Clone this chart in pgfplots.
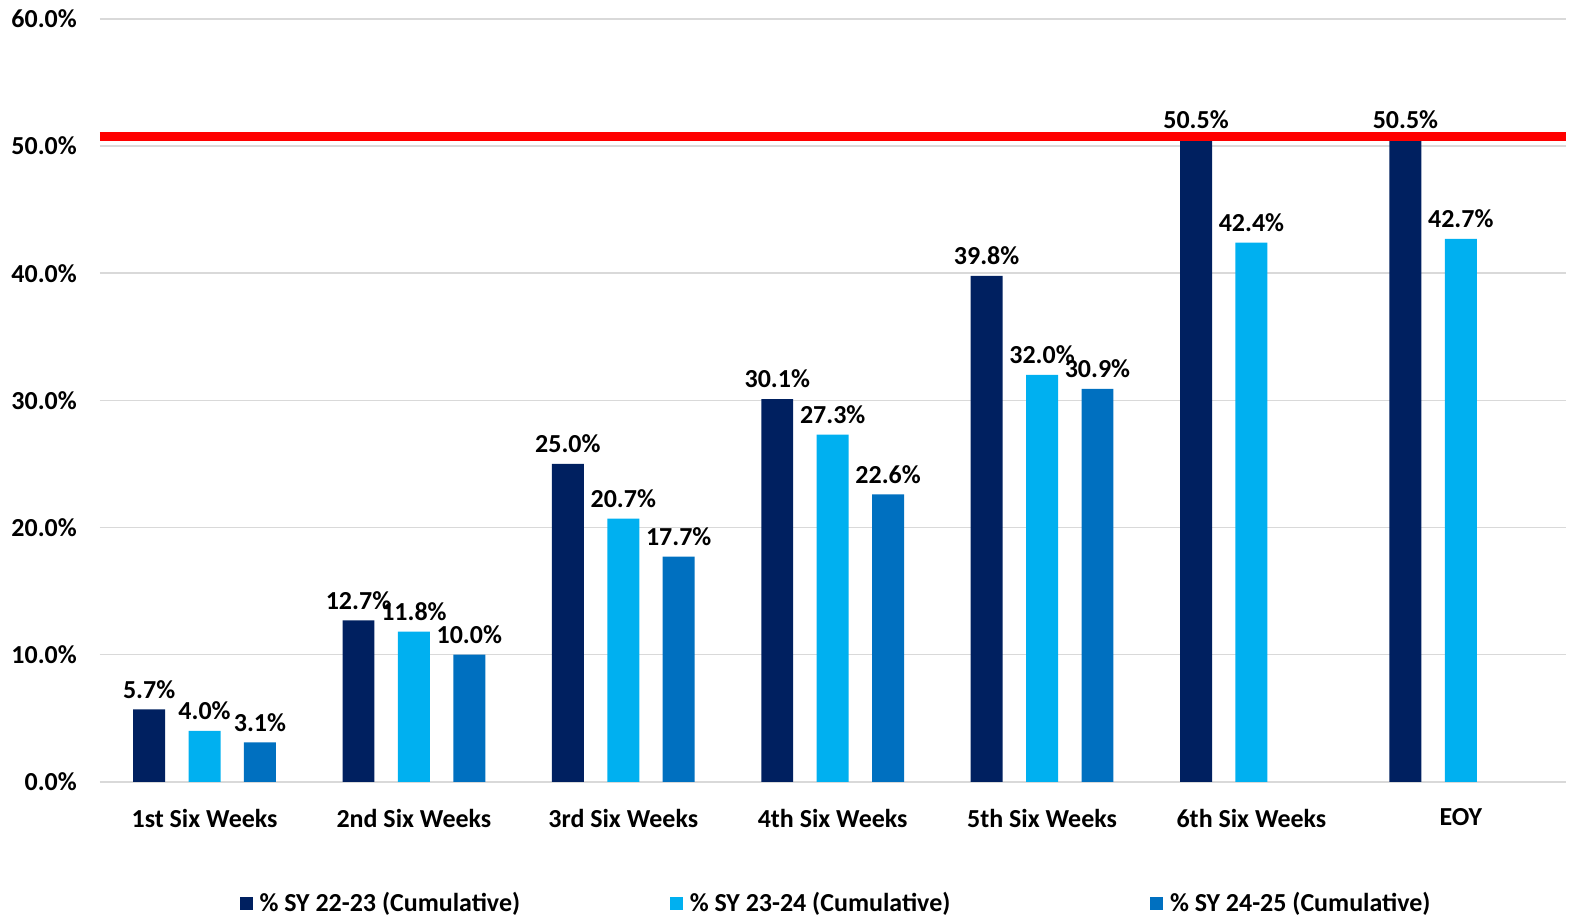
\documentclass[border=0pt]{standalone}
\usepackage{pgfplots}
\pgfplotsset{compat=1.18}
\usepackage{fontspec}
\setmainfont{Carlito}
\definecolor{cA}{HTML}{002060}
\definecolor{cB}{HTML}{00B0F0}
\definecolor{cC}{HTML}{0070C0}
\definecolor{gridc}{HTML}{D9D9D9}
\begin{document}
\begin{tikzpicture}
\path (-50pt,-68pt) rectangle (735pt,391.5pt);
\begin{axis}[
  at={(0,0)}, anchor=south west,
  width=734pt, height=382pt, scale only axis,
  ymin=0, ymax=60, ytick={0,10,...,60},
  xmin=-0.5, xmax=6.5,
  xtick={0,...,6},
  xticklabels={1st Six Weeks,2nd Six Weeks,3rd Six Weeks,4th Six Weeks,5th Six Weeks,6th Six Weeks,EOY},
  axis line style={draw=none},
  major tick length=0pt,
  ymajorgrids, grid style={gridc, line width=0.8pt},
  /pgf/number format/assume math mode=true,
  ticklabel style={font=\fontsize{13}{15}\selectfont\bfseries},
  yticklabel={\pgfmathprintnumber[fixed,fixed zerofill,precision=1]{\tick}\%},
  yticklabel style={xshift=-8pt},
  xticklabel style={yshift=-10pt},
  ybar=11.75pt, bar width=16pt,
  clip=false,
  legend style={at={(0.503,-0.16)}, anchor=center, draw=none, fill=none,
    font=\fontsize{13}{15}\selectfont\bfseries, legend columns=3,
    /tikz/column 2/.style={column sep=73pt},
    /tikz/column 4/.style={column sep=98pt},
    /tikz/column 1/.style={column sep=1.5pt},
    /tikz/column 3/.style={column sep=1.5pt},
    /tikz/column 5/.style={column sep=1.5pt}},
  legend image code/.code={\fill[#1] (0pt,-3.2pt) rectangle (6.5pt,3.3pt);},
  bars/.style={draw=none, nodes near coords={\pgfmathprintnumber[fixed,fixed zerofill,precision=1]{\pgfplotspointmeta}\%},
    nodes near coords style={font=\fontsize{13}{15}\selectfont\bfseries, black, yshift=2pt}},
]
\addplot[bars, fill=cA] coordinates {(0,5.7) (1,12.7) (2,25.0) (3,30.1) (4,39.8) (5,50.5) (6,50.5)};
\addplot[bars, fill=cB] coordinates {(0,4.0) (1,11.8) (2,20.7) (3,27.3) (4,32.0) (5,42.4) (6,42.7)};
\addplot[bars, fill=cC] coordinates {(0,3.1) (1,10.0) (2,17.7) (3,22.6) (4,30.9)};
\legend{\% SY 22-23 (Cumulative),\% SY 23-24 (Cumulative),\% SY 24-25 (Cumulative)}
\addplot[sharp plot, bar shift=0pt, red, line width=4.5pt, forget plot] coordinates {(-0.5,50.75) (6.5,50.75)};
\end{axis}
\end{tikzpicture}
\end{document}
